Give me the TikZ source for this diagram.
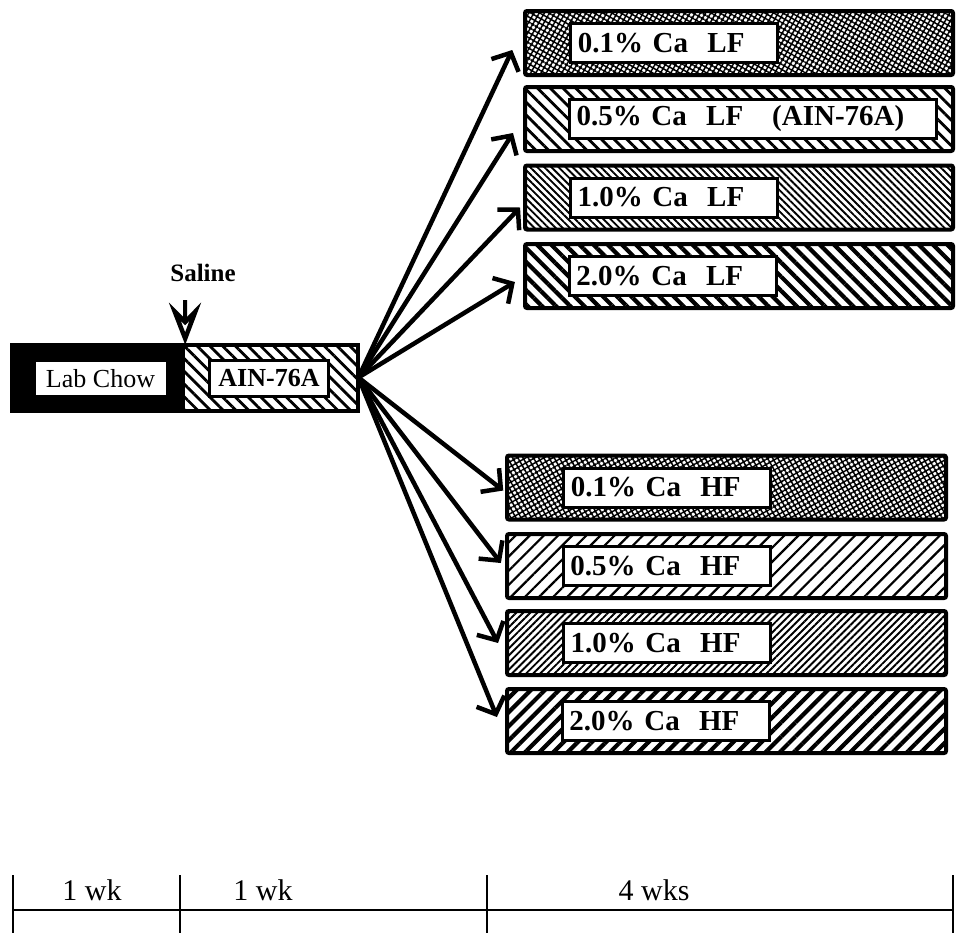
\documentclass[tikz,border=0pt]{standalone}
\usepackage{fontspec}
\setmainfont{Liberation Serif}
\usetikzlibrary{
  arrows.meta,
  calc,
  patterns.meta,
  positioning
}
\tikzset{
  every node/.style={font=\fontsize{29}{31}\selectfont\bfseries, text=black},
  bar/.style={
    draw,
    line width=4pt,
    rounded corners=2pt,
    inner sep=0pt,
    minimum height=64pt
  },
  tag/.style={
    draw,
    fill=white,
    line width=3pt,
    inner xsep=7pt,
    inner ysep=0pt,
    minimum height=39pt,
    align=left
  },
  plate/.style={
    draw,
    fill=white,
    line width=3pt,
    inner sep=0pt,
    minimum height=36pt
  },
  weeks/.style={font=\fontsize{30}{32}\selectfont},
  link/.style={
    -{Straight Barb[length=14pt,width=30pt,line width=4.5pt]},
    line width=4.5pt
  },
  saltip/.style={
    -{Stealth[open,length=42pt,width=32pt,inset=16pt,line width=4.5pt]},
    line width=4pt
  },
  scale line/.style={line width=2.5pt},
  lf01/.style={pattern={Hatch[angle=-30,distance=4.5pt,line width=1.5pt]}},
  lf05/.style={pattern={Lines[angle=-45,distance=9pt,line width=2.8pt]}},
  lf10/.style={pattern={Lines[angle=-45,distance=5pt,line width=1.9pt]}},
  lf20/.style={pattern={Lines[angle=-45,distance=10pt,line width=4.2pt]}},
  hf01/.style={pattern={Hatch[angle=30,distance=4.5pt,line width=1.5pt]}},
  hf05/.style={pattern={Lines[angle=45,distance=10pt,line width=2.2pt]}},
  hf10/.style={pattern={Lines[angle=45,distance=5pt,line width=1.9pt]}},
  hf20/.style={pattern={Lines[angle=45,distance=10pt,line width=4.2pt]}}
}

\begin{document}
\begin{tikzpicture}[x=1pt,y=-1pt]
  \useasboundingbox (0,0) rectangle (960,938);

  % starting diets
  \node[fill=black, inner sep=0pt, minimum width=173pt, minimum height=65pt] (chow) at (98.5,377.5) {};
  \node[lf05, inner sep=0pt, minimum width=172pt, minimum height=65pt] (ain) at (271,377.5) {};
  \draw[line width=4pt] (chow.north west) rectangle (ain.south east);
  \node[plate, minimum width=133pt, font=\fontsize{26}{28}\selectfont] (chowt) at (100.5,378.5) {Lab Chow};
  \node[plate, minimum width=119pt, font=\fontsize{26}{28}\selectfont\bfseries] (aint) at (269,378) {AIN-76A};

  \node[font=\fontsize{25}{27}\selectfont\bfseries] (saline) at (203,273) {Saline};
  \coordinate (dose) at (185,300);
  \draw[saltip] (dose) -- (chow.north east);

  % low fat diets
  \foreach \nm/\y/\pat/\w/\lab in {
    lf1/43/lf01/193/{0.1\% Ca\ \ LF},
    lf2/119/lf05/353/{0.5\% Ca\ \ LF\ \ \ (AIN-76A)},
    lf3/197.5/lf10/193/{1.0\% Ca\ \ LF},
    lf4/276/lf20/193/{2.0\% Ca\ \ LF}
  }{
    \node[bar, \pat, minimum width=428pt] (\nm) at (739,\y) {};
    \node[tag, text width=\w pt, right=45pt of \nm.west] (\nm t) {\lab};
  }

  % high fat diets
  \foreach \nm/\y/\pat/\lab in {
    hf1/487.5/hf01/{0.1\% Ca\ \ HF},
    hf2/566/hf05/{0.5\% Ca\ \ HF},
    hf3/643/hf10/{1.0\% Ca\ \ HF},
    hf4/721/hf20/{2.0\% Ca\ \ HF}
  }{
    \node[bar, \pat, minimum width=439pt] (\nm) at (726.5,\y) {};
    \node[tag, text width=193pt, right=56pt of \nm.west] (\nm t) {\lab};
  }

  \foreach \nm/\dx/\dy in {lf1/-12/7, lf2/-10/14, lf3/-4/10, lf4/-8/6, hf1/-3/3, hf2/-5/-3, hf3/-8/0, hf4/-8/-4}
    \draw[link] (ain.east) -- ($(\nm.west)+(\dx,\dy)$);

  % time scale
  \coordinate (w0) at (13,910);
  \coordinate (w1) at (180,910);
  \coordinate (w2) at (487,910);
  \coordinate (w3) at (953,910);
  \draw[scale line] (w0) -- (w3);
  \foreach \c in {w0,w1,w2,w3}
    \draw[scale line] ([yshift=35pt]\c) -- ([yshift=-23pt]\c);
  \node[weeks] (wk1) at (92,890) {1 wk};
  \node[weeks] (wk2) at (263,890) {1 wk};
  \node[weeks] (wk3) at (654,890) {4 wks};
\end{tikzpicture}
\end{document}
